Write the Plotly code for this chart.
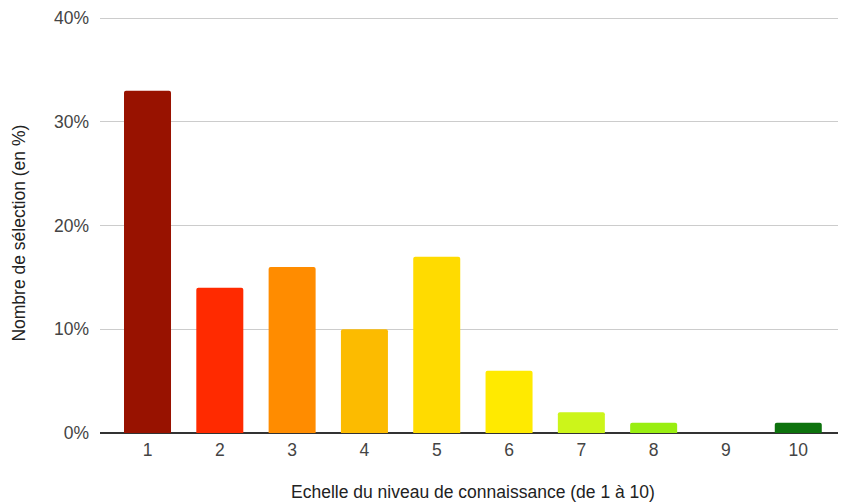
import plotly.graph_objects as go

niveaux = [1, 2, 3, 4, 5, 6, 7, 8, 9, 10]
pourcentages = [33, 14, 16, 10, 17, 6, 2, 1, 0, 1]
couleurs = ["#981200", "#ff2a00", "#ff8c00", "#fcbb00", "#ffdb00",
            "#ffea00", "#ccf51a", "#99ee11", "#55bb22", "#0d720d"]
y_ticks = [0, 10, 20, 30, 40]

fig = go.Figure(
    go.Bar(
        x=niveaux,
        y=pourcentages,
        marker=dict(color=couleurs, line=dict(width=0), cornerradius=2),
        width=0.65,
        hoverinfo="x+y",
    )
)

# la page ajoute 8px de marge autour du graphique : on compense ici
fig.update_layout(
    width=838,
    height=496,
    margin=dict(l=92, r=0, t=9, b=71, autoexpand=False),
    paper_bgcolor="white",
    plot_bgcolor="white",
    font=dict(family="Liberation Sans, Arial, sans-serif", color="#444"),
    showlegend=False,
)

fig.update_xaxes(
    range=[0.343, 10.66],
    tickmode="array",
    tickvals=niveaux,
    ticktext=[str(n) for n in niveaux],
    tickfont=dict(size=17.5, color="#444"),
    showgrid=False,
    showline=False,
    zeroline=False,
    ticks="",
    ticklabelstandoff=4,
    automargin=False,
)

fig.update_yaxes(
    range=[0, 40.1],
    tickmode="array",
    tickvals=y_ticks,
    ticktext=[f"{v}%" for v in y_ticks],
    tickfont=dict(size=17.5, color="#444"),
    showgrid=True,
    gridcolor="#cccccc",
    gridwidth=1,
    zeroline=True,
    zerolinecolor="#333333",
    zerolinewidth=1.5,
    ticks="",
    ticklabelstandoff=10,
    automargin=False,
)

# titres des axes placés à la main
fig.add_annotation(
    text="Echelle du niveau de connaissance (de 1 à 10)",
    xref="paper", yref="paper", x=0.4995, y=-0.142,
    xanchor="center", yanchor="middle", showarrow=False,
    font=dict(size=17.5, color="#222"),
)
fig.add_annotation(
    text="Nombre de sélection (en %)",
    xref="paper", yref="paper", x=-0.109, y=0.481,
    xanchor="center", yanchor="middle", showarrow=False, textangle=-90,
    font=dict(size=17.5, color="#222"),
)

fig.write_html("out.html")
